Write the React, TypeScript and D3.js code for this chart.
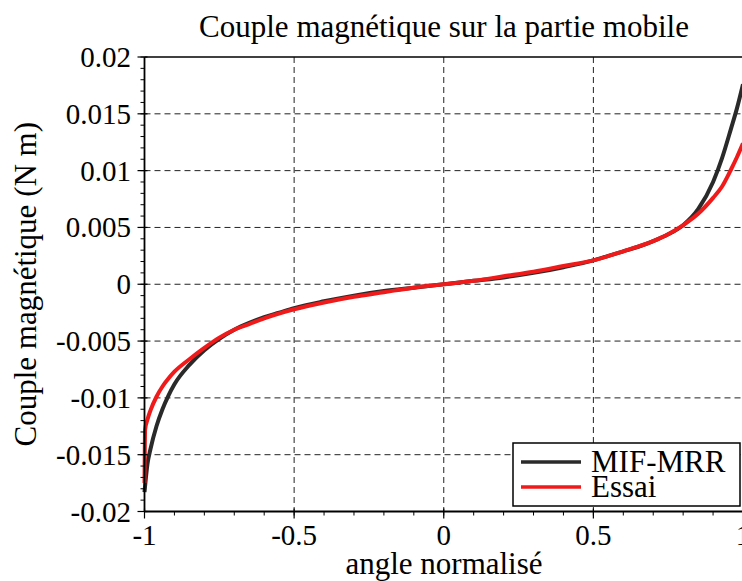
import React from "react";
import * as d3 from "d3";

const title = "Couple magnétique sur la partie mobile";
const xLabel = "angle normalisé";
const yLabel = "Couple magnétique (N m)";

const xMajorTicks = [-1, -0.5, 0, 0.5, 1];
const xTickLabels = ["-1", "-0.5", "0", "0.5", "1"];
const yMajorTicks = [-0.02, -0.015, -0.01, -0.005, 0, 0.005, 0.01, 0.015, 0.02];
const yTickLabels = ["-0.02", "-0.015", "-0.01", "-0.005", "0", "0.005", "0.01", "0.015", "0.02"];

const seriesNames = ["MIF-MRR", "Essai"];

const mifX = [-1, -0.99, -0.98, -0.96, -0.94, -0.92, -0.9, -0.85, -0.8, -0.75, -0.7, -0.65, -0.6, -0.55, -0.5, -0.4, -0.3, -0.2, -0.1, 0, 0.1, 0.2, 0.3, 0.4, 0.5, 0.55, 0.6, 0.65, 0.7, 0.75, 0.8, 0.85, 0.9, 0.93, 0.96, 0.98, 1];
const mifY = [-0.0183, -0.0158, -0.0145, -0.0125, -0.011, -0.0098, -0.0088, -0.0071, -0.0058, -0.0048, -0.004, -0.0034, -0.0029, -0.0025, -0.0021, -0.0015, -0.001, -0.0006, -0.0003, 0, 0.0003, 0.0006, 0.001, 0.0015, 0.0021, 0.0025, 0.0029, 0.0033, 0.0038, 0.0044, 0.0052, 0.0066, 0.009, 0.0111, 0.0137, 0.0155, 0.0176];

const essaiX = [-1, -0.998, -0.99, -0.98, -0.96, -0.94, -0.92, -0.9, -0.85, -0.8, -0.75, -0.7, -0.65, -0.6, -0.5, -0.4, -0.3, -0.2, -0.1, 0, 0.1, 0.2, 0.3, 0.4, 0.5, 0.6, 0.7, 0.75, 0.8, 0.85, 0.9, 0.93, 0.96, 0.98, 1];
const essaiY = [-0.0175, -0.0128, -0.0119, -0.0111, -0.0099, -0.009, -0.0083, -0.0077, -0.0066, -0.0056, -0.0047, -0.004, -0.0035, -0.003, -0.0022, -0.0016, -0.0011, -0.0007, -0.0003, 0, 0.0003, 0.0007, 0.0011, 0.0016, 0.0021, 0.0029, 0.0038, 0.0044, 0.0052, 0.0062, 0.0076, 0.0086, 0.0101, 0.0112, 0.0124];

const W = 742;
const H = 581;
const left = 144.5;
const right = 743;
const top = 57;
const bottom = 511.5;
const FONT = "Liberation Serif";

export default function App() {
  const x = d3.scaleLinear().domain([-1, 1]).range([left, right]);
  const y = d3.scaleLinear().domain([-0.02, 0.02]).range([bottom, top]);

  const line = d3
    .line<[number, number]>()
    .x((d) => x(d[0]))
    .y((d) => y(d[1]))
    .curve(d3.curveMonotoneX);

  const mifData: [number, number][] = mifX.map((v, i) => [v, mifY[i]]);
  const essaiData: [number, number][] = essaiX.map((v, i) => [v, essaiY[i]]);

  const xMinor = d3.range(-1, 1.0001, 0.1).map((v) => Math.round(v * 10) / 10);
  const yMinor = d3.range(-0.02, 0.02001, 0.001).map((v) => Math.round(v * 1000) / 1000);

  const colors = ["#2a2a2a", "#f01a1a"];
  const ts = { fontFamily: FONT };

  return (
    <svg width={W} height={H} style={{ position: "absolute", left: 0, top: 0, background: "#fff" }}>
      <rect x={0} y={0} width={W} height={H} fill="#fff" />
      {yMajorTicks
        .filter((v) => v > -0.02 && v < 0.02)
        .map((v) => (
          <line key={"gy" + v} x1={left} x2={right} y1={y(v)} y2={y(v)} stroke="#222" strokeWidth={1} strokeDasharray="6,4" />
        ))}
      {xMajorTicks
        .filter((v) => v > -1 && v < 1)
        .map((v) => (
          <line key={"gx" + v} x1={x(v)} x2={x(v)} y1={top} y2={bottom} stroke="#222" strokeWidth={1} strokeDasharray="6,4" />
        ))}

      <path d={line(mifData) || ""} fill="none" stroke={colors[0]} strokeWidth={4} strokeLinejoin="round" />
      <path d={line(essaiData) || ""} fill="none" stroke={colors[1]} strokeWidth={4} strokeLinejoin="round" />

      <line x1={left} x2={right} y1={top} y2={top} stroke="#000" strokeWidth={1.5} />
      <line x1={left} x2={left} y1={top} y2={bottom} stroke="#000" strokeWidth={1.8} />
      <line x1={left} x2={right} y1={bottom} y2={bottom} stroke="#000" strokeWidth={1.8} />

      {yMinor.map((v) => (
        <line key={"my" + v} x1={left - 4} x2={left} y1={y(v)} y2={y(v)} stroke="#000" strokeWidth={1} />
      ))}
      {xMinor.map((v) => (
        <line key={"mx" + v} x1={x(v)} x2={x(v)} y1={bottom} y2={bottom + 4} stroke="#000" strokeWidth={1} />
      ))}
      {yMajorTicks.map((v) => (
        <line key={"ty" + v} x1={left - 7} x2={left + 3} y1={y(v)} y2={y(v)} stroke="#000" strokeWidth={1.2} />
      ))}
      {xMajorTicks.map((v) => (
        <line key={"tx" + v} x1={x(v)} x2={x(v)} y1={bottom - 3} y2={bottom + 7} stroke="#000" strokeWidth={1.2} />
      ))}

      {yMajorTicks.map((v, i) => (
        <text key={"ly" + v} x={131} y={y(v) + 10} textAnchor="end" fontSize={29} fill="#000" style={ts}>
          {yTickLabels[i]}
        </text>
      ))}
      {xMajorTicks.map((v, i) => (
        <text key={"lx" + v} x={x(v)} y={545} textAnchor="middle" fontSize={29} fill="#000" style={ts}>
          {xTickLabels[i]}
        </text>
      ))}

      <text x={444} y={37} textAnchor="middle" fontSize={31} fill="#000" style={ts}>
        {title}
      </text>
      <text x={444} y={574} textAnchor="middle" fontSize={31} fill="#000" style={ts}>
        {xLabel}
      </text>
      <text
        transform={`translate(36, ${(top + bottom) / 2}) rotate(-90)`}
        textAnchor="middle"
        fontSize={31}
        fill="#000"
        style={ts}
      >
        {yLabel}
      </text>

      <rect x={513} y={443} width={227} height={63} fill="#fff" stroke="#000" strokeWidth={1.5} />
      {seriesNames.map((name, i) => (
        <g key={name}>
          <line x1={521} x2={581} y1={462 + i * 25} y2={462 + i * 25} stroke={colors[i]} strokeWidth={3.5} />
          <text x={591} y={472 + i * 25} fontSize={31} fill="#000" style={ts}>
            {name}
          </text>
        </g>
      ))}
    </svg>
  );
}
